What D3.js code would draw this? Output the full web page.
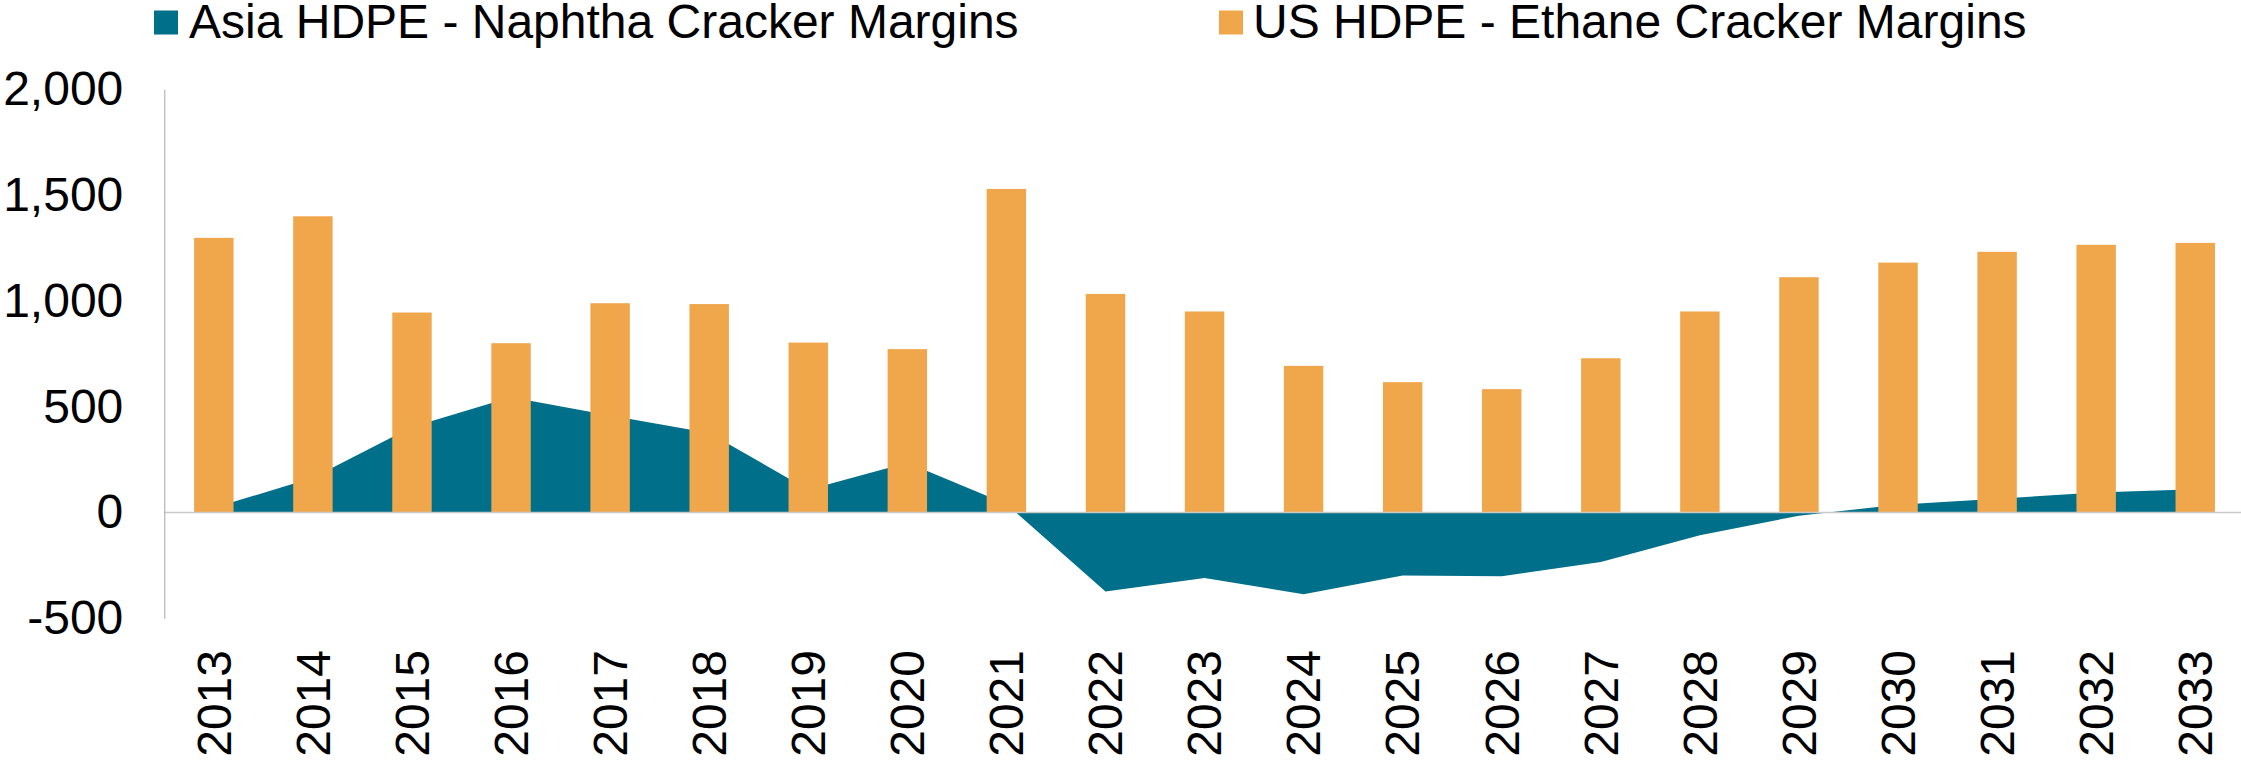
<!DOCTYPE html>
<html>
<head>
<meta charset="utf-8">
<script src="https://cdn.jsdelivr.net/npm/d3@7"></script>
<style>
  html, body { margin: 0; padding: 0; background: #ffffff; }
  svg { display: block; font-family: "Liberation Sans", Arial, sans-serif; }
</style>
</head>
<body>
<svg id="chart" width="2241" height="761"></svg>
<script>
// ---- Data ----
const years = ["2013","2014","2015","2016","2017","2018","2019","2020","2021","2022","2023",
               "2024","2025","2026","2027","2028","2029","2030","2031","2032","2033"];
const usMargins   = [1298, 1400, 945, 800, 989, 985, 803, 772, 1529, 1033, 950,
                     693, 616, 583, 729, 950, 1112, 1181, 1232, 1265, 1274];
const asiaMargins = [22, 164, 404, 545, 459, 376, 108, 235, 40, -373, -309,
                     -386, -298, -301, -234, -107, -15, 37, 65, 94, 110];
const yTicks      = [-500, 0, 500, 1000, 1500, 2000];
const yTickLabels = ["-500", "0", "500", "1,000", "1,500", "2,000"];
const seriesNames = ["Asia HDPE - Naphtha Cracker Margins", "US HDPE - Ethane Cracker Margins"];
const seriesColors = ["#006F8A", "#F0A64B"];

// ---- Layout ----
const svg = d3.select("#chart");
const plotLeft = 164.3, step = 99.07;
const plotRight = plotLeft + step * years.length;
const yTop = 89.3, yBottom = 618.3;

const x = d3.scaleBand().domain(years).range([plotLeft, plotRight]).padding(0);
const y = d3.scaleLinear().domain([-500, 2000]).range([yBottom, yTop]);
const barW = x.bandwidth() * 0.398;
const cx = d => x(d) + x.bandwidth() / 2;

// ---- Area (Asia) ----
const area = d3.area()
  .x((d, i) => cx(years[i]))
  .y0(y(0))
  .y1(d => y(d));
svg.append("path")
  .datum(asiaMargins)
  .attr("d", area)
  .attr("fill", seriesColors[0]);

// ---- Bars (US) ----
svg.append("g").selectAll("rect")
  .data(usMargins)
  .join("rect")
  .attr("x", (d, i) => cx(years[i]) - barW / 2)
  .attr("width", barW)
  .attr("y", d => y(Math.max(0, d)))
  .attr("height", d => Math.abs(y(d) - y(0)))
  .attr("fill", seriesColors[1]);

// ---- Zero line ----
svg.append("line")
  .attr("x1", plotLeft).attr("x2", plotRight)
  .attr("y1", y(0)).attr("y2", y(0))
  .attr("stroke", "#c9c9c9").attr("stroke-width", 1.5);

// ---- Y axis ----
const yAxis = d3.axisLeft(y)
  .tickValues(yTicks)
  .tickFormat((d, i) => yTickLabels[i])
  .tickSize(0)
  .tickPadding(41);
const gy = svg.append("g").attr("transform", `translate(${plotLeft},0)`).call(yAxis);
gy.select(".domain").attr("stroke", "#a6a6a6").attr("stroke-width", 1);
gy.selectAll("text")
  .attr("fill", "#000")
  .style("font-size", "48px")
  .style("font-family", "'Liberation Sans', Arial, sans-serif");

// ---- X axis labels ----
const xAxis = d3.axisBottom(x).tickSize(0).tickSizeOuter(0);
const gx = svg.append("g").attr("transform", "translate(0,650)").call(xAxis);
gx.select(".domain").remove();
gx.selectAll("text")
  .attr("x", 0).attr("y", 0).attr("dy", "0.35em")
  .attr("transform", "rotate(-90)")
  .style("text-anchor", "end")
  .attr("fill", "#000")
  .style("font-size", "48px")
  .style("font-family", "'Liberation Sans', Arial, sans-serif");

// ---- Legend ----
const legendPos = [{sx: 154, tx: 189}, {sx: 1219, tx: 1253}];
const lg = svg.append("g");
seriesNames.forEach((name, i) => {
  lg.append("rect")
    .attr("x", legendPos[i].sx).attr("y", 10.5)
    .attr("width", 24).attr("height", 24)
    .attr("fill", seriesColors[i]);
  lg.append("text")
    .attr("x", legendPos[i].tx).attr("y", 38.3)
    .style("font-size", "48px")
    .attr("fill", "#000")
    .text(name);
});
</script>
</body>
</html>
